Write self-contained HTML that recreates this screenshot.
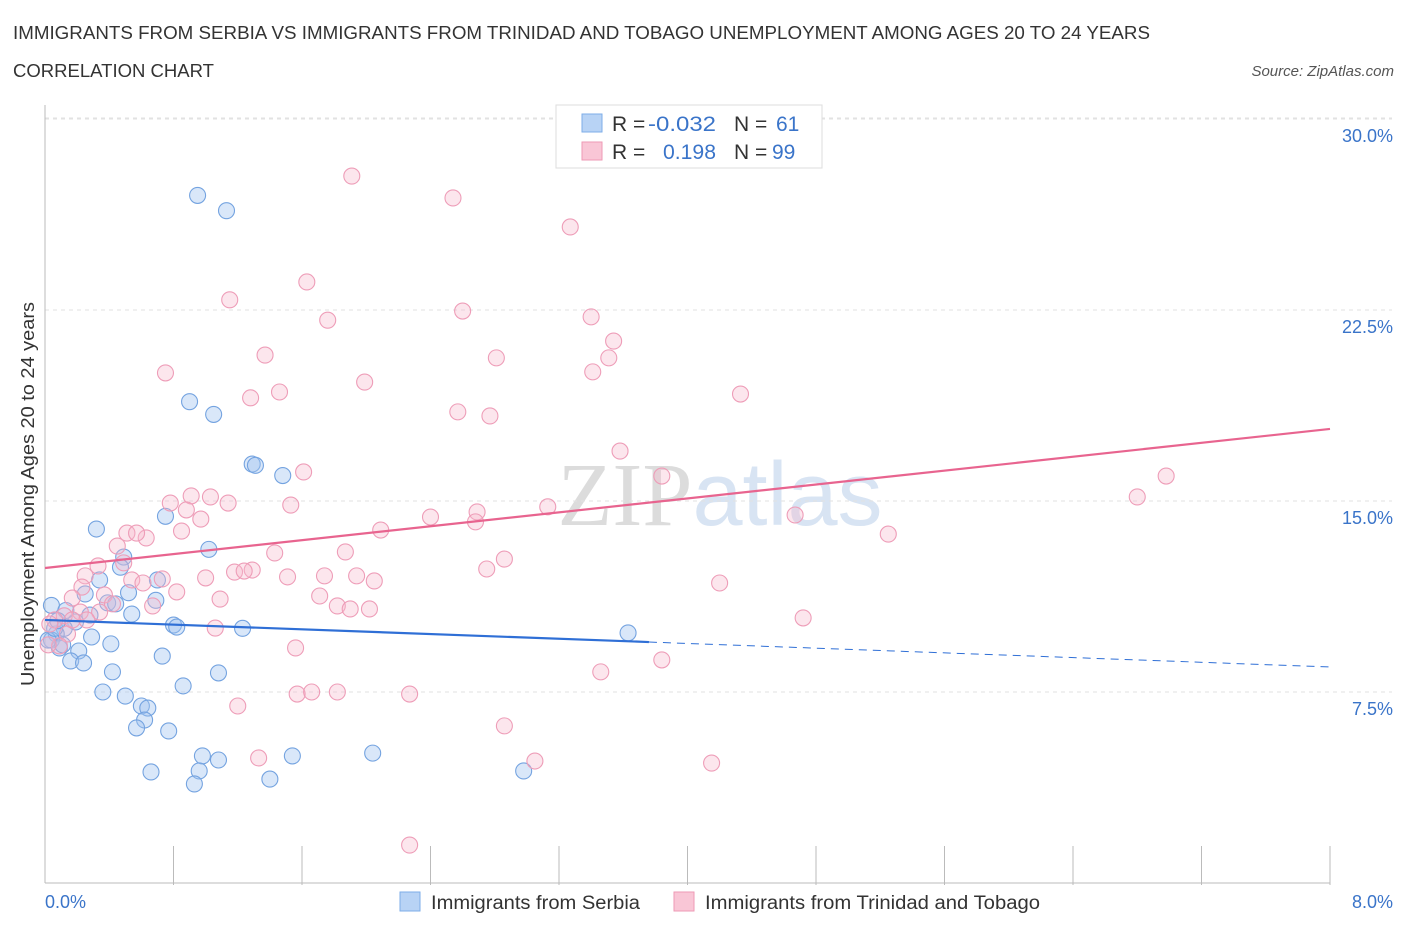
<!DOCTYPE html>
<html><head><meta charset="utf-8">
<style>
body{margin:0;background:#fff;font-family:"Liberation Sans",sans-serif;}
svg text{font-family:"Liberation Sans",sans-serif;}
</style></head>
<body>
<svg id="chart" width="1406" height="930" xmlns="http://www.w3.org/2000/svg">
<text x="13" y="39" font-size="18" fill="#333" textLength="1137" lengthAdjust="spacingAndGlyphs">IMMIGRANTS FROM SERBIA VS IMMIGRANTS FROM TRINIDAD AND TOBAGO UNEMPLOYMENT AMONG AGES 20 TO 24 YEARS</text>
<text x="13" y="77" font-size="18" fill="#333" textLength="201" lengthAdjust="spacingAndGlyphs">CORRELATION CHART</text>
<text x="1394" y="76" font-size="15" fill="#555" font-style="italic" text-anchor="end">Source: ZipAtlas.com</text>
<text x="720" y="525" font-size="90" text-anchor="middle" fill="#e8e8e8"><tspan font-family="Liberation Serif" fill="#dcdcdc">ZIP</tspan><tspan fill="#d8e4f3">atlas</tspan></text>
<g id="grid"></g>
<g id="axes"></g>
<g id="blue-pts"></g>
<g id="pink-pts"></g>
<g id="trends"></g>
<text transform="translate(34,494) rotate(-90)" font-size="18" fill="#333" text-anchor="middle" textLength="384" lengthAdjust="spacingAndGlyphs">Unemployment Among Ages 20 to 24 years</text>
<g>
<rect x="556" y="105" width="266" height="63" fill="#fff" stroke="#ddd"/>
<rect x="582" y="114" width="20" height="18" fill="#b8d3f5" stroke="#7eaee8"/>
<rect x="582" y="142" width="20" height="18" fill="#f9c6d6" stroke="#ee9ab5"/>
<text x="612" y="131" font-size="21" fill="#333">R = </text>
<text x="648" y="131" font-size="21" fill="#3a74c9" textLength="68" lengthAdjust="spacingAndGlyphs">-0.032</text>
<text x="734" y="131" font-size="21" fill="#333">N = </text>
<text x="776" y="131" font-size="21" fill="#3a74c9">61</text>
<text x="612" y="159" font-size="21" fill="#333">R = </text>
<text x="663" y="159" font-size="21" fill="#3a74c9" textLength="53" lengthAdjust="spacingAndGlyphs">0.198</text>
<text x="734" y="159" font-size="21" fill="#333">N = </text>
<text x="772" y="159" font-size="21" fill="#3a74c9">99</text>
</g>
<g>
<rect x="400" y="892" width="20" height="19" fill="#b8d3f5" stroke="#7eaee8"/>
<text x="431" y="909" font-size="19" fill="#333" textLength="209" lengthAdjust="spacingAndGlyphs">Immigrants from Serbia</text>
<rect x="674" y="892" width="20" height="19" fill="#f9c6d6" stroke="#ee9ab5"/>
<text x="705" y="909" font-size="19" fill="#333" textLength="335" lengthAdjust="spacingAndGlyphs">Immigrants from Trinidad and Tobago</text>
</g>
</svg>
<script>
const yTicks=[7.5,15,22.5,30];
const yTickLabels=["7.5%","15.0%","22.5%","30.0%"];
const xEnds=["0.0%","8.0%"];
const blueX=[0.95,1.13,0.90,1.05,1.29,1.31,1.48,0.75,0.32,1.02,0.49,0.47,0.34,0.70,0.25,0.52,0.69,0.39,0.44,0.54,0.28,0.80,0.82,1.23,0.19,0.12,0.07,0.04,0.29,0.41,0.21,0.09,0.16,0.24,0.73,0.42,1.08,0.36,0.86,0.50,0.60,0.64,0.62,0.57,0.77,0.98,1.08,1.54,2.04,0.66,0.96,0.93,1.40,2.98,3.63,0.04,0.02,0.06,0.13,0.08,0.11];
const blueY=[27.0,26.4,18.9,18.4,16.45,16.4,16.0,14.4,13.9,13.1,12.8,12.4,11.9,11.9,11.35,11.4,11.1,11.0,10.96,10.56,10.52,10.13,10.05,10.0,10.25,10.0,9.78,9.54,9.66,9.39,9.11,9.23,8.72,8.64,8.91,8.29,8.25,7.5,7.74,7.34,6.95,6.87,6.4,6.09,5.97,4.99,4.83,4.99,5.1,4.36,4.4,3.89,4.08,4.4,9.82,10.9,9.54,10.0,10.7,10.3,9.35];
const pinkX=[1.91,2.54,3.27,1.63,1.15,2.60,1.76,3.40,3.54,1.37,3.51,2.81,0.75,1.99,3.41,1.46,1.28,4.33,2.57,2.77,3.58,1.61,3.84,6.98,6.80,1.03,0.78,0.91,1.53,1.14,0.88,3.13,2.69,2.40,2.68,0.97,4.67,2.09,0.85,0.51,0.63,0.57,5.25,0.45,1.43,1.87,2.86,2.75,0.33,1.18,1.29,1.24,0.49,0.25,1.00,0.73,0.54,1.51,1.74,1.94,2.05,0.61,0.23,0.82,1.71,1.09,0.37,0.17,0.42,0.67,1.82,1.90,2.02,4.20,0.34,0.22,0.12,0.06,0.14,0.03,0.26,1.06,4.72,0.09,1.56,3.84,3.46,1.57,1.66,1.82,2.27,1.20,2.86,1.33,3.05,4.15,2.27,0.17,0.02];
const pinkY=[27.76,26.9,25.76,23.6,22.9,22.46,22.1,22.23,21.28,20.73,20.62,20.62,20.03,19.67,20.07,19.28,19.05,19.2,18.5,18.34,16.96,16.14,15.98,15.98,15.16,15.16,14.92,15.2,14.84,14.92,14.65,14.77,14.57,14.37,14.18,14.29,14.45,13.86,13.82,13.74,13.55,13.74,13.7,13.23,12.96,13.0,12.72,12.33,12.45,12.21,12.29,12.25,12.57,12.06,11.98,11.94,11.9,12.02,12.06,12.06,11.86,11.78,11.62,11.43,11.27,11.15,11.31,11.19,10.96,10.88,10.88,10.76,10.76,11.78,10.64,10.64,10.49,10.33,9.78,10.17,10.33,10.01,10.41,9.31,9.23,8.76,8.29,7.42,7.5,7.5,7.42,6.95,6.17,4.91,4.79,4.71,1.49,10.33,9.35];
const blueTrend=[10.33,-0.231];
const pinkTrend=[12.37,0.6825];
const NS="http://www.w3.org/2000/svg";
const X0=45,X1=1330,Y0=883,YS=191/7.5;
const sx=v=>X0+(X1-X0)*v/8, sy=v=>Y0-v*YS;
function mk(tag,attrs,parent){const e=document.createElementNS(NS,tag);for(const k in attrs)e.setAttribute(k,attrs[k]);parent.appendChild(e);return e;}
const grid=document.getElementById('grid'),axes=document.getElementById('axes');
yTicks.forEach((t,i)=>{
 const l=mk('line',{x1:X0,x2:1392,y1:sy(t),y2:sy(t),stroke:'#e2e2e2','stroke-dasharray':'4,4'},grid);
 
 
 const tx=mk('text',{x:1393,y:sy(t)+23,'font-size':18,fill:'#3a74c9','text-anchor':'end'},axes);
 tx.textContent=yTickLabels[i];
 
 
});
const topL=mk('line',{x1:X0,x2:1392,y1:118,y2:118,stroke:'#e2e2e2','stroke-dasharray':'4,4'},grid);


const xa=mk('line',{x1:X0,x2:X1,y1:Y0,y2:Y0,stroke:'#bbb'},axes);


const ya=mk('line',{x1:X0,x2:X0,y1:105,y2:Y0,stroke:'#bbb'},axes);


for(let i=1;i<=10;i++){const v=i*0.8;const t=mk('line',{x1:sx(v),x2:sx(v),y1:Y0+2,y2:Y0-37,stroke:'#bbb'},axes);
 
 }
[[xEnds[0],45,'start'],[xEnds[1],1393,'end']].forEach(([s,x,a])=>{const t=mk('text',{x:x,y:908,'font-size':18,fill:'#3a74c9','text-anchor':a},axes);t.textContent=s;
 
 });
const bg=document.getElementById('blue-pts'),pg=document.getElementById('pink-pts');
blueX.forEach((v,i)=>{const c=mk('circle',{cx:sx(v),cy:sy(blueY[i]),r:8,fill:'rgba(160,196,240,0.4)',stroke:'#74a3e0','stroke-width':1.1},bg);
 
 });
pinkX.forEach((v,i)=>{const c=mk('circle',{cx:sx(v),cy:sy(pinkY[i]),r:8,fill:'rgba(246,182,204,0.35)',stroke:'#ee9db8','stroke-width':1.1},pg);
 
 });
const tr=document.getElementById('trends');
const f=(p,x)=>p[0]+p[1]*x;
const b1=mk('line',{x1:sx(0),y1:sy(f(blueTrend,0)),x2:sx(3.76),y2:sy(f(blueTrend,3.76)),stroke:'#2f6fd6','stroke-width':2.2},tr);


const b2=mk('line',{x1:sx(3.76),y1:sy(f(blueTrend,3.76)),x2:sx(8),y2:sy(f(blueTrend,8)),stroke:'#2f6fd6','stroke-width':1,'stroke-dasharray':'8,6'},tr);


const p1=mk('line',{x1:sx(0),y1:sy(f(pinkTrend,0)),x2:sx(8),y2:sy(f(pinkTrend,8)),stroke:'#e8648f','stroke-width':2.2},tr);


</script>
</body></html>
